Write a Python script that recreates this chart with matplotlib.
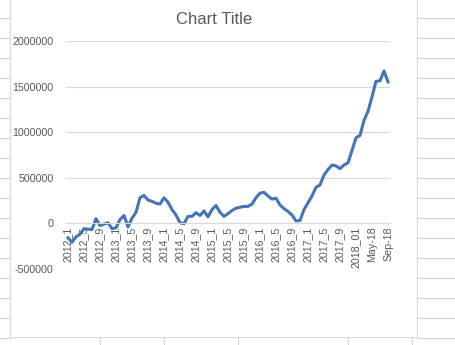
import matplotlib.pyplot as plt
from matplotlib.lines import Line2D
from matplotlib.patches import Rectangle

# monthly categories 2012_1 .. Sep-18
months = [f"{y}_{m}" for y in range(2012, 2018) for m in range(1, 13)]
months += ["2018_01", "2018_02", "2018_03", "Apr-18", "May-18", "Jun-18",
           "Jul-18", "Aug-18", "Sep-18"]

values = [
    -160000, -210000, -150000, -120000, -60000, -65000, -70000, 50000,
    -25000, -10000, 5000, -60000, -50000, 40000, 85000, -40000,
    55000, 120000, 280000, 305000, 255000, 240000, 220000, 210000,
    280000, 230000, 150000, 90000, 5000, -5000, 75000, 75000,
    115000, 85000, 135000, 70000, 150000, 195000, 120000, 75000,
    105000, 140000, 165000, 175000, 185000, 185000, 210000, 280000,
    330000, 340000, 300000, 265000, 275000, 200000, 160000, 130000,
    90000, 25000, 30000, 150000, 225000, 300000, 395000, 420000,
    530000, 590000, 640000, 630000, 600000, 640000, 665000, 800000,
    940000, 965000, 1130000, 1230000, 1390000, 1560000, 1565000, 1675000,
    1555000,
]

y_ticks = [-500000, 0, 500000, 1000000, 1500000, 2000000]

W, H = 456, 345
plt.rcParams['font.family'] = ['Liberation Sans', 'DejaVu Sans']
fig = plt.figure(figsize=(W / 100, H / 100), dpi=100)
fig.patch.set_facecolor('white')

sheet = '#d4d4d4'
# spreadsheet gridlines around the chart object
for yy in range(18, H, 20):
    fy = 1 - (yy + 0.3) / H
    fig.add_artist(Line2D([0, 10 / W], [fy, fy], color=sheet, lw=0.8))
    fig.add_artist(Line2D([418 / W, 1], [fy, fy], color=sheet, lw=0.8))
for xx in [100, 164, 238, 348, 412]:
    fig.add_artist(Line2D([xx / W, xx / W], [0, 1 - 337 / H], color=sheet, lw=0.8))
# chart area border
fig.add_artist(Rectangle((10.5 / W, 1 - 336.7 / H), 406.5 / W, 340 / H,
                         fill=False, edgecolor='#d9d9d9', lw=0.8))

ax = fig.add_axes([66 / W, 1 - 268.7 / H, 324 / W, 227.4 / H])
for s in ['top', 'right', 'left']:
    ax.spines[s].set_visible(False)
ax.spines['bottom'].set_position(('data', 0))
ax.spines['bottom'].set_color('#d9d9d9')
ax.spines['bottom'].set_linewidth(0.8)

x = list(range(len(values)))
ax.plot(x, values, color='#4674B5', lw=2.2, solid_joinstyle='round')

ax.set_xlim(-0.5, len(values) - 0.5)
ax.set_ylim(-500000, 2000000)
ax.set_yticks(y_ticks)
ax.set_yticklabels([str(v) for v in y_ticks])
ax.grid(axis='y', color='#d9d9d9', lw=0.8)
ax.set_axisbelow(True)

ax.set_xticks(x[::4])
ax.set_xticklabels(months[::4])
ax.tick_params(axis='both', length=0, labelsize=7.7, labelcolor='#595959')
ax.tick_params(axis='y', pad=9)
ax.tick_params(axis='x', pad=2.5, labelrotation=90)
for lbl in ax.get_xticklabels():
    lbl.set_va('top')
    lbl.set_ha('center')

fig.text(213.7 / W, 1 - 20 / H, 'Chart Title', ha='center', va='center',
         fontsize=12, color='#595959')

fig.savefig('out.png', dpi=100, facecolor='white')
